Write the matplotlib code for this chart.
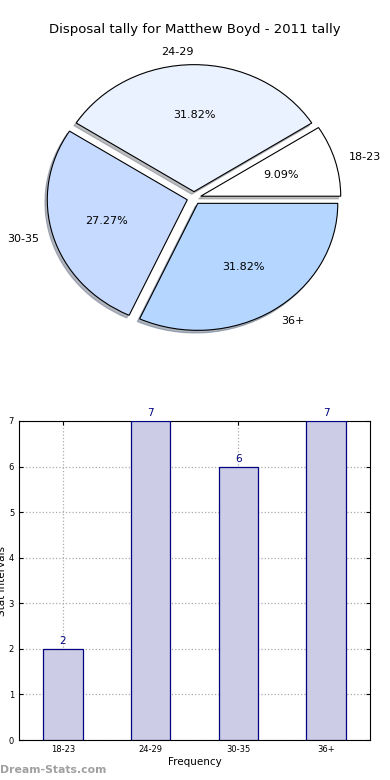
import matplotlib
matplotlib.use('Agg')
import matplotlib.pyplot as plt

labels = ['18-23', '24-29', '30-35', '36+']
counts = [2, 7, 6, 7]
pie_colors = ['#ffffff', '#eaf1ff', '#c6d9ff', '#b4d6ff']

W, H = 390, 780
fig = plt.figure(figsize=(W/100, H/100), dpi=100)

# pie: center ~ (194,198) px, slightly squashed vertically like the reference
cx, cy, rx, ry = 194, 198, 140, 127
top, bot = 40, 356
ax1 = fig.add_axes([0, (H-bot)/H, 1, (bot-top)/H])
wedges, texts, autotexts = ax1.pie(counts, labels=labels, colors=pie_colors,
                                   explode=[0.05]*4,
                                   shadow={'ox': -0.012, 'oy': -0.015, 'shade': 0.5},
                                   autopct='%.2f%%',
                                   startangle=0, labeldistance=1.1, pctdistance=0.6,
                                   wedgeprops={'edgecolor': 'black', 'linewidth': 0.8},
                                   textprops={'fontsize': 8})
ax1.set_aspect('auto')
ax1.set_xlim(-cx/rx, (W-cx)/rx)
ax1.set_ylim(-(bot-cy)/ry, (cy-top)/ry)
fig.text(0.5, 1-30/H, 'Disposal tally for Matthew Boyd - 2011 tally',
         ha='center', va='center', fontsize=9.5)

# bar chart
ax2 = fig.add_axes([19/W, 40/H, 351/W, 319/H])
x = range(len(labels))
ax2.bar(x, counts, width=0.45, color='#ccccE6', edgecolor='navy', linewidth=0.9, zorder=3)
for i, v in zip(x, counts):
    ax2.text(i, v + 0.06, str(v), ha='center', va='bottom', color='navy', fontsize=7.5)
ax2.set_xlim(-0.5, 3.5)
ax2.set_ylim(0, 7)
ax2.set_xticks(list(x))
ax2.set_xticklabels(labels, fontsize=6)
ax2.set_yticks(range(8))
ax2.tick_params(axis='y', labelsize=6)
ax2.tick_params(direction='in', right=True, top=True, length=3)
ax2.grid(True, linestyle=':', color='#aaaaaa', linewidth=0.9, zorder=0)
ax2.set_axisbelow(True)
ax2.set_xlabel('Frequency', fontsize=7.5, labelpad=2)
ax2.set_ylabel('Stat Intervals', fontsize=7.5, labelpad=1)

fig.text(0.0, 1-770/H, 'Dream-Stats.com', ha='left', va='center',
         fontsize=7.8, color='#a0a0a0', fontweight='bold')

fig.savefig('out.png', dpi=100)
